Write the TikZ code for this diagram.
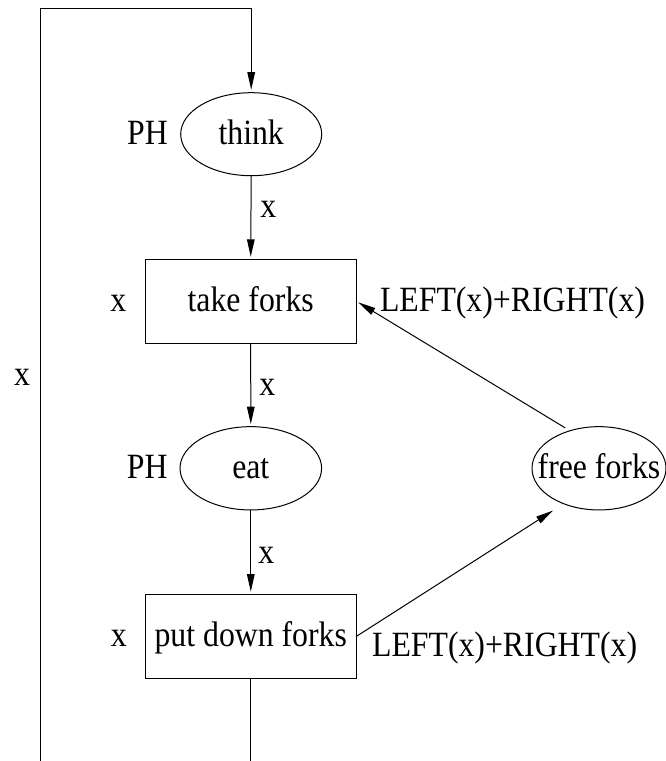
\documentclass[tikz,border=0pt]{standalone}
\usepackage{fontspec}
\setmainfont[FakeStretch=0.895]{Liberation Serif}
\usetikzlibrary{shapes.geometric,arrows.meta}

\tikzset{
  every node/.style={font=\fontsize{35.5pt}{40pt}\selectfont},
  place/.style={draw, ellipse, line width=1pt, inner xsep=-15pt, inner ysep=0pt,
                text height=20pt, text depth=0pt},
  trans/.style={draw, rectangle, line width=1pt, inner sep=0pt,
                minimum width=210.7pt, minimum height=84pt,
                text height=20pt, text depth=0pt},
  lbl/.style={inner sep=0pt, anchor=base},
  wire/.style={line width=1pt},
  arc/.style={wire, -{Triangle[length=17.5pt,width=7.6pt]}, shorten >=2pt},
}

\begin{document}
\begin{tikzpicture}[x=1pt, y=-1pt]
  \useasboundingbox (0,0) rectangle (665,761);

  % places and transitions
  \node[place, minimum width=141pt, minimum height=83pt] (think) at (251.2,134.2) {think};
  \node[trans] (take) at (250.7,301.3) {take forks};
  \node[place, minimum width=141.6pt, minimum height=83.3pt] (eat) at (250.8,468.3) {eat};
  \node[trans] (put) at (250.8,636.2) {put down forks};
  \node[place, minimum width=134pt, minimum height=83.3pt] (free) at (599,468.3) {free forks};

  % inscriptions
  \node[lbl] (ph1) at (147.5,144) {PH};
  \node[lbl] (ph2) at (147.2,478.3) {PH};
  \node[lbl] (x1) at (268.3,217.3) {x};
  \node[lbl] (x2) at (267.3,395) {x};
  \node[lbl] (x3) at (266.3,563.3) {x};
  \node[lbl] (x4) at (118.3,311.7) {x};
  \node[lbl] (x5) at (118.7,646.7) {x};
  \node[lbl] (x6) at (22,385) {x};
  \node[lbl] (lr1) at (512.5,311.7) {LEFT(x)+RIGHT(x)};
  \node[lbl] (lr2) at (504.6,656.7) {LEFT(x)+RIGHT(x)};

  % return loop
  \coordinate (loopbot) at (40.7,761);
  \coordinate (looptop) at (40.7,8.3);
  \coordinate (putbot) at (250.8,761);
  \draw[wire] (put.south) -- (putbot);
  \draw[arc, shorten >=2.5pt] (loopbot) -- (looptop) -| (think.north);

  % main cycle
  \draw[arc] (think.south) -- (take.north);
  \draw[arc] (take.south) -- (eat.north);
  \draw[arc] (eat.south) -- (put.north);

  % forks
  \draw[arc, shorten <=5pt] (free.128) -- (take.east);
  \draw[arc, shorten >=12pt] (put.east) -- (free.225);
\end{tikzpicture}
\end{document}
